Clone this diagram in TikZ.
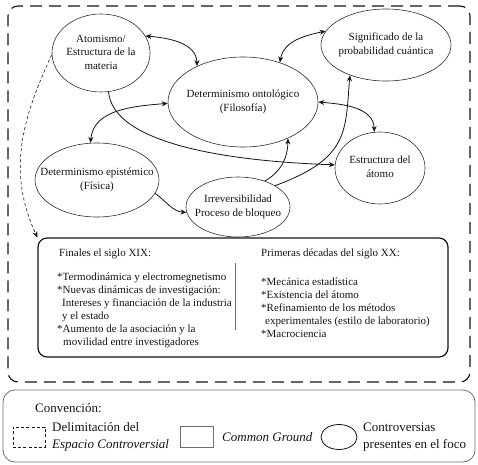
\documentclass[tikz,border=0pt]{standalone}
\usepackage{fontspec}
\setmainfont{Liberation Serif}
\usepackage{xcolor}
\usepackage{tikz}
\usetikzlibrary{arrows.meta,shapes.geometric}
\definecolor{ink}{HTML}{141414}
\definecolor{edge}{HTML}{2E2E2E}
\definecolor{frame}{HTML}{6E6E6E}
\newcommand{\ctext}[1]{\makebox[0pt]{\begin{tabular}{@{}c@{}}#1\end{tabular}}}
\tikzset{
  >={Stealth[length=6pt,width=5pt]},
  every node/.style={font=\fontsize{11}{13.5}\selectfont,text=ink},
  contro/.style={ellipse,draw=edge,line width=0.6pt,inner sep=0pt},
  espacio/.style={draw=ink,line width=1.1pt,dash pattern=on 12pt off 7pt,rounded corners=10pt},
  cgbox/.style={draw=ink,line width=1.2pt,rounded corners=9pt},
  listtext/.style={font=\fontsize{11}{13}\selectfont,align=left,inner sep=0pt},
  legbox/.style={draw=frame,line width=0.8pt,rounded corners=12pt},
  legtext/.style={font=\fontsize{13}{16.5}\selectfont,align=left,inner sep=0pt},
  legdash/.style={draw=ink,line width=0.8pt,dash pattern=on 3pt off 2.2pt},
  legrect/.style={draw=frame,line width=1pt},
  legell/.style={ellipse,draw=ink,line width=0.8pt,inner sep=0pt},
  divider/.style={draw=frame,line width=0.7pt},
  biarr/.style={<->,line width=0.8pt,draw=ink},
  onearr/.style={->,line width=0.8pt,draw=ink},
  dasharr/.style={->,line width=0.6pt,draw=ink,dash pattern=on 3pt off 2.5pt}
}
\begin{document}
\begin{tikzpicture}[x=1pt,y=1pt]
  \useasboundingbox (0,0) rectangle (478,464);
  % espacio controversial
  \node[espacio,minimum width=462,minimum height=376] (espacio) at (239,270) {};

  % controversias presentes en el foco
  \node[contro,minimum width=98,minimum height=78] (atom) at (101,411) {\ctext{Atomismo/\\Estructura de la\\materia}};
  \node[contro,minimum width=150,minimum height=90] (onto) at (243,362) {\ctext{Determinismo ontológico\\(Filosofía)}};
  \node[contro,minimum width=130,minimum height=72] (signif) at (386,419) {\ctext{Significado de la\\probabilidad cuántica}};
  \node[contro,minimum width=90,minimum height=72] (estr) at (380,296) {\ctext{Estructura del\\átomo}};
  \node[contro,minimum width=124,minimum height=74] (epis) at (97,284) {\ctext{Determinismo epistémico\\(Física)}};
  \node[contro,minimum width=104,minimum height=60] (irrev) at (238,257) {\ctext{Irreversibilidad\\Proceso de bloqueo}};

  % common ground
  \node[cgbox,minimum width=410,minimum height=119] (cg) at (243,166.5) {};
  \node[listtext,anchor=north west] (xix) at (57,215) {\hspace*{2pt}Finales el siglo XIX:\\[11pt]
    *Termodinámica y electromegnetismo\\
    *Nuevas dinámicas de investigación:\\
    \hspace*{5pt}Intereses y financiación de la industria\\
    \hspace*{5pt}y el estado\\
    *Aumento de la asociación y la\\
    \hspace*{6pt}movilidad entre investigadores};
  \node[listtext,anchor=north west] (xx) at (261,215) {Primeras décadas del siglo XX:\\[16pt]
    *Mecánica estadística\\
    *Existencia del átomo\\
    *Refinamiento de los métodos\\
    \hspace*{4pt}experimentales (estilo de laboratorio)\\
    *Macrociencia};
  \draw[divider] (235,134) -- (235,201);

  % relaciones
  \draw[biarr] (atom.21) to[out=-5,in=92] (onto.142);
  \draw[biarr] (onto.181) to[out=185,in=85] (epis.100);
  \draw[biarr] (onto.47) to[out=80,in=192] (signif.167);
  \draw[biarr] (onto.0) to[out=-5,in=92] (estr.99);
  \draw[onearr] (atom.281) to[out=-85,in=178,out distance=45pt,in distance=135pt] (estr.176);
  \draw[onearr] (epis.-13) to[out=-35,in=176] (irrev.186);
  \draw[onearr] (irrev.44) to[out=30,in=-90] (onto.-39);
  \draw[onearr] (irrev.30) to[out=20,in=-95,out distance=80pt,in distance=55pt] (signif.220);
  \draw[dasharr] (atom.182) to[out=245,in=115] (cg.north west);

  % convencion
  \node[legbox,minimum width=472,minimum height=72] (leyenda) at (239,38) {};
  \node[legtext,anchor=west] (convencion) at (35,56) {Convención:};
  \node[legdash,minimum width=32,minimum height=20] (swdash) at (29,27) {};
  \node[legtext,anchor=west] (swdashtxt) at (52,27) {Delimitación del\\\textit{Espacio Controversial}};
  \node[legrect,minimum width=33,minimum height=21] (swrect) at (196.5,27) {};
  \node[legtext,anchor=west] (swrecttxt) at (222,27) {\textit{Common Ground}};
  \node[legell,minimum width=36,minimum height=25] (swell) at (339,27) {};
  \node[legtext,anchor=west] (swelltxt) at (363,27) {Controversias\\presentes en el foco};
\end{tikzpicture}
\end{document}
